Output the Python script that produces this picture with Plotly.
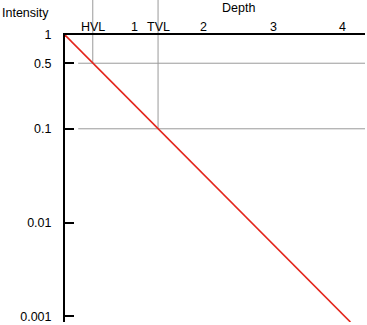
import plotly.graph_objects as go

# Attenuation of beam intensity with depth (log scale)
depth = [0.0, 4.11]
intensity = [1.0, 0.00087]

hvl = 0.40   # half-value layer depth
tvl = 1.34   # tenth-value layer depth

x_tick_vals = [hvl, 1, tvl, 2, 3, 4]
x_tick_text = ["HVL", "1", "TVL", "2", "3", "4"]
y_tick_vals = [1, 0.5, 0.1, 0.01, 0.001]
y_tick_text = ["1", "0.5", "0.1", "0.01", "0.001"]

x_max = 4.32
y_min_log = -3.06

FONT = "Liberation Sans, Arial, Helvetica, sans-serif"
GRID = "#9a9a9a"

fig = go.Figure()
fig.add_trace(go.Scatter(
    x=depth, y=intensity, mode="lines",
    line=dict(color="#e3261c", width=1.6),
    hoverinfo="skip", showlegend=False,
))

shapes = []
# horizontal reference lines at half and tenth intensity
for level in (0.5, 0.1):
    shapes.append(dict(type="line", xref="x", yref="y", x0=0.19, x1=x_max,
                       y0=level, y1=level, line=dict(color=GRID, width=1),
                       layer="below"))
# vertical reference lines at HVL and TVL, rising above the top axis
for xv, level in ((hvl, 0.5), (tvl, 0.1)):
    shapes.append(dict(type="line", xref="x", yref="y", x0=xv, x1=xv,
                       y0=level, y1=1, line=dict(color=GRID, width=1),
                       layer="below"))
    shapes.append(dict(type="line", xref="x", yref="paper", x0=xv, x1=xv,
                       y0=1, y1=1.125, line=dict(color=GRID, width=1),
                       layer="below"))

# depth tick labels sit just above the top axis line
annotations = [
    dict(text=t, xref="x", yref="paper", x=v, y=1, xanchor="center",
         yanchor="bottom", yshift=-1, showarrow=False,
         font=dict(size=12.5))
    for v, t in zip(x_tick_vals, x_tick_text)
]
annotations += [
    dict(text="Intensity", xref="paper", yref="paper", x=-65 / 300,
         y=1 + 22 / 289, xanchor="left", yanchor="middle",
         showarrow=False, font=dict(size=12.5)),
    dict(text="Depth", xref="paper", yref="paper", x=(238 - 65) / 300,
         y=1 + 27 / 289, xanchor="center", yanchor="middle",
         showarrow=False, font=dict(size=12.5)),
]

fig.update_layout(
    width=367, height=325,
    margin=dict(l=65, r=2, t=35, b=1),
    paper_bgcolor="white", plot_bgcolor="white",
    font=dict(family=FONT, size=12, color="black"),
    shapes=shapes,
    annotations=annotations,
    xaxis=dict(
        side="top", range=[0, x_max], showgrid=False, zeroline=False,
        tickmode="array", tickvals=x_tick_vals, showticklabels=False,
        ticks="", showline=True, linecolor="black", linewidth=2,
    ),
    yaxis=dict(
        type="log", range=[y_min_log, 0], showgrid=False, zeroline=False,
        tickmode="array", tickvals=y_tick_vals, ticktext=y_tick_text,
        ticks="inside", ticklen=9, tickwidth=2, tickcolor="black",
        showline=True, linecolor="black", linewidth=2,
        tickfont=dict(size=12.5), ticklabelstandoff=9,
        ticklabeloverflow="allow",
    ),
)

fig.write_html("out.html")
